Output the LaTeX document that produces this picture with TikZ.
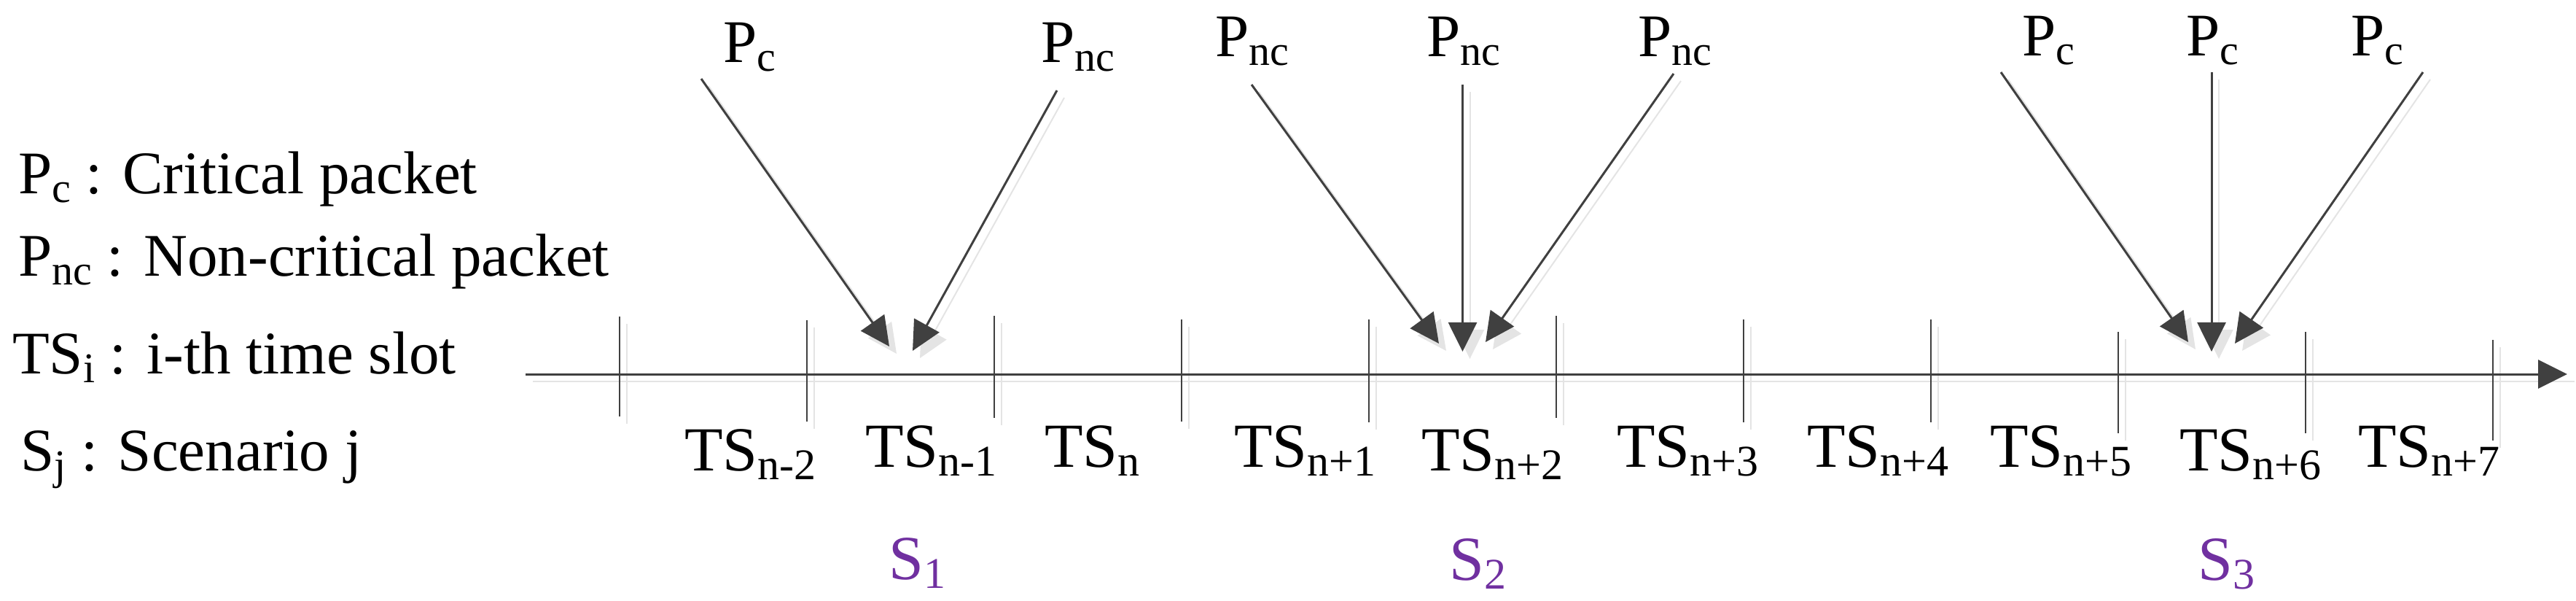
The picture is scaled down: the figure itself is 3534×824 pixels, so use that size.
\documentclass[tikz,border=0pt]{standalone}
\usepackage{fontspec}
\setmainfont{Liberation Serif}
\usetikzlibrary{arrows.meta}
\definecolor{ln}{HTML}{404040}
\definecolor{shd}{HTML}{E4E4E4}
\definecolor{scol}{HTML}{7030A0}
\newcommand{\lsub}[1]{\raisebox{-12pt}{\fontsize{58}{60}\selectfont #1}}
\newcommand{\tsub}[1]{\raisebox{-12pt}{\fontsize{60}{62}\selectfont #1}}
\begin{document}
\begin{tikzpicture}[x=1pt,y=-1pt,
  legend/.style={anchor=base west,inner sep=0pt,font=\fontsize{83}{100}\selectfont},
  tslabel/.style={anchor=base west,inner sep=0pt,font=\fontsize{86}{100}\selectfont},
  slabel/.style={anchor=base west,inner sep=0pt,text=scol,font=\fontsize{86}{100}\selectfont},
  plabel/.style={anchor=base west,inner sep=0pt,font=\fontsize{83}{100}\selectfont},
  axisline/.style={draw=ln,line width=3pt,-{Triangle[length=40pt,width=39pt]}},
  tickline/.style={draw=ln,line width=2.7pt},
  pkt/.style={draw=ln,line width=3pt,-{Triangle[length=40pt,width=39pt]}},
  shadowline/.style={draw=shd,line width=2pt},
  shadowpkt/.style={draw=shd,line width=2pt,-{Triangle[length=40pt,width=39pt]}},
  ]
\useasboundingbox (0,0) rectangle (3534,824);

% legend
\node[legend] (l1) at (25,265) {P\lsub{c} : Critical packet};
\node[legend] (l2) at (25,378) {P\lsub{nc} : Non-critical packet};
\node[legend] (l3) at (17,512) {TS\lsub{i} : i-th time slot};
\node[legend] (l4) at (28,645) {S\lsub{j} : Scenario j};

% axis
\coordinate (ax0) at (721,513);
\coordinate (ax1) at (3522,513);
\draw[shadowline] ([shift={(10,10)}]ax0) -- ([shift={(10,10)}]ax1);

% ticks
\foreach \x/\a/\b [count=\i] in {850/434/571,1107/439/578,1364/433/573,1621/438/578,1878/438/579,2135/433/573,2392/438/579,2649/438/579,2906/455/594,3163/455/594,3420/466/604}{
  \coordinate (t\i a) at (\x,\a);
  \coordinate (t\i b) at (\x,\b);
  \draw[shadowline] ([shift={(10,10)}]t\i a) -- ([shift={(10,10)}]t\i b);
  \draw[tickline] (t\i a) -- (t\i b);
}
\draw[axisline] (ax0) -- (ax1);

% time slot labels
\node[tslabel] (ts1) at (939,645) {TS\tsub{n-2}};
\node[tslabel] (ts2) at (1187,640) {TS\tsub{n-1}};
\node[tslabel] (ts3) at (1433,640) {TS\tsub{n}};
\node[tslabel] (ts4) at (1693,640) {TS\tsub{n+1}};
\node[tslabel] (ts5) at (1950,645) {TS\tsub{n+2}};
\node[tslabel] (ts6) at (2218,640) {TS\tsub{n+3}};
\node[tslabel] (ts7) at (2479,640) {TS\tsub{n+4}};
\node[tslabel] (ts8) at (2730,640) {TS\tsub{n+5}};
\node[tslabel] (ts9) at (2990,645) {TS\tsub{n+6}};
\node[tslabel] (ts10) at (3235,640) {TS\tsub{n+7}};

% scenario labels
\node[slabel] (s1) at (1219,794) {S\tsub{1}};
\node[slabel] (s2) at (1988,795) {S\tsub{2}};
\node[slabel] (s3) at (3015,795) {S\tsub{3}};

% packet labels
\node[plabel] (p1) at (992,86) {P\lsub{c}};
\node[plabel] (p2) at (1428,86) {P\lsub{nc}};
\node[plabel] (p3) at (1667,78) {P\lsub{nc}};
\node[plabel] (p4) at (1957,78) {P\lsub{nc}};
\node[plabel] (p5) at (2247,78) {P\lsub{nc}};
\node[plabel] (p6) at (2774,77) {P\lsub{c}};
\node[plabel] (p7) at (2999,77) {P\lsub{c}};
\node[plabel] (p8) at (3225,77) {P\lsub{c}};

% arrow endpoints
\coordinate (a1s) at (962,108);   \coordinate (a1e) at (1220,475);
\coordinate (a2s) at (1450,124);  \coordinate (a2e) at (1252,481);
\coordinate (b1s) at (1717,116);  \coordinate (b1e) at (1974,471);
\coordinate (b2s) at (2006.5,116);\coordinate (b2e) at (2006.5,482);
\coordinate (b3s) at (2296,101);  \coordinate (b3e) at (2038,469);
\coordinate (c1s) at (2745,99);   \coordinate (c1e) at (3002,469);
\coordinate (c2s) at (3034,99);   \coordinate (c2e) at (3034,482);
\coordinate (c3s) at (3324,99);   \coordinate (c3e) at (3066,471);

\foreach \n in {a1,a2,b1,b2,b3,c1,c2,c3}{
  \draw[shadowpkt] ([shift={(10,10)}]\n s) -- ([shift={(10,10)}]\n e);
}
\foreach \n in {a1,a2,b1,b2,b3,c1,c2,c3}{
  \draw[pkt] (\n s) -- (\n e);
}
\end{tikzpicture}
\end{document}
